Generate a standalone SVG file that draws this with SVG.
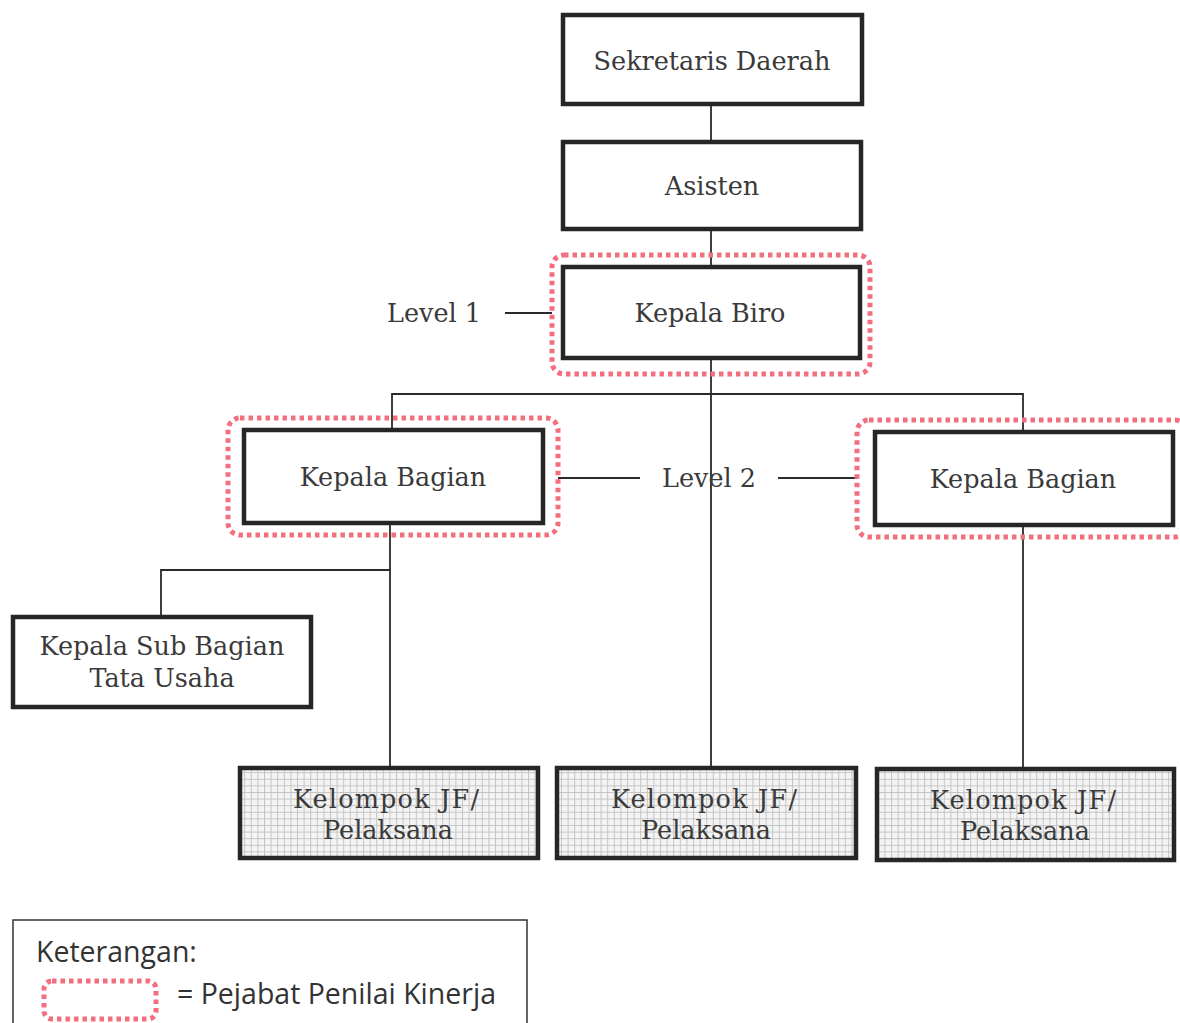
<svg xmlns="http://www.w3.org/2000/svg" width="1180" height="1023" viewBox="0 0 1180 1023">
<defs>
<pattern id="grid" width="6.6" height="6.6" patternUnits="userSpaceOnUse">
<rect width="6.6" height="6.6" fill="#f4f4f4"/>
<path d="M0 0.5H6.6M0.5 0V6.6" stroke="#c4c4c4" stroke-width="1" fill="none"/>
</pattern>
<style>
.box{fill:#fff;stroke:#262626;stroke-width:4.5}
.jf{fill:url(#grid);stroke:#262626;stroke-width:4.5}
.ppk{fill:none;stroke:#f2707e;stroke-width:5;stroke-dasharray:4.5 4}
.t{font-family:"DejaVu Serif","Liberation Serif",serif;font-size:25.5px;fill:#3a3a3a;text-anchor:middle}
.c{stroke:#2a2a2a;stroke-width:1.8;fill:none}
.lg{font-family:"Open Sans","Liberation Sans",sans-serif;font-size:28.5px;fill:#333}
</style>
</defs>
<rect width="1180" height="1023" fill="#fff"/>
<g id="connectors">
<path class="c" d="M711 105V142M711 228V267M711 358V768"/>
<path class="c" d="M392 430V394H1023V432"/>
<path class="c" d="M390 523V768M390 570H161V617"/>
<path class="c" d="M1023 525V768"/>
<path class="c" d="M505 313H552M558 478H640M778 478H857"/>
</g>
<g id="sekda"><rect class="box" x="563" y="15" width="299" height="89"/><text class="t" x="712" y="70">Sekretaris Daerah</text></g>
<g id="asisten"><rect class="box" x="563" y="142" width="298" height="87"/><text class="t" x="712" y="195">Asisten</text></g>
<g id="kepala-biro"><rect class="ppk" x="552" y="255" width="318" height="119" rx="12"/><rect class="box" x="563" y="267" width="297" height="91"/><text class="t" x="710" y="322">Kepala Biro</text></g>
<g id="level1"><text class="t" x="434" y="322">Level 1</text></g>
<g id="level2"><text class="t" x="709" y="487">Level 2</text></g>
<g id="kabag-kiri"><rect class="ppk" x="228" y="418" width="330" height="117" rx="12"/><rect class="box" x="244" y="430" width="299" height="93"/><text class="t" x="393" y="486">Kepala Bagian</text></g>
<g id="kabag-kanan"><rect class="ppk" x="857" y="420" width="330" height="117" rx="12"/><rect class="box" x="875" y="432" width="298" height="93"/><text class="t" x="1023" y="488">Kepala Bagian</text></g>
<g id="kasubag"><rect class="box" x="13" y="617" width="298" height="90"/><text class="t" x="162" y="655">Kepala Sub Bagian</text><text class="t" x="162" y="687">Tata Usaha</text></g>
<g id="jf1"><rect class="jf" x="240" y="768" width="298" height="90"/><text class="t" x="386" y="808" textLength="186">Kelompok JF/</text><text class="t" x="388" y="839">Pelaksana</text></g>
<g id="jf2"><rect class="jf" x="557" y="768" width="299" height="90"/><text class="t" x="704" y="808" textLength="186">Kelompok JF/</text><text class="t" x="706" y="839">Pelaksana</text></g>
<g id="jf3"><rect class="jf" x="877" y="769" width="297" height="91"/><text class="t" x="1023" y="809" textLength="186">Kelompok JF/</text><text class="t" x="1025" y="840">Pelaksana</text></g>
<g id="legend">
<rect x="13" y="920" width="514" height="110" fill="#fff" stroke="#333" stroke-width="1.5"/>
<text class="lg" x="36" y="962">Keterangan:</text>
<rect class="ppk" x="44" y="981" width="112" height="38" rx="8" stroke-width="4"/>
<text class="lg" x="177" y="1004">= Pejabat Penilai Kinerja</text>
</g>
</svg>
